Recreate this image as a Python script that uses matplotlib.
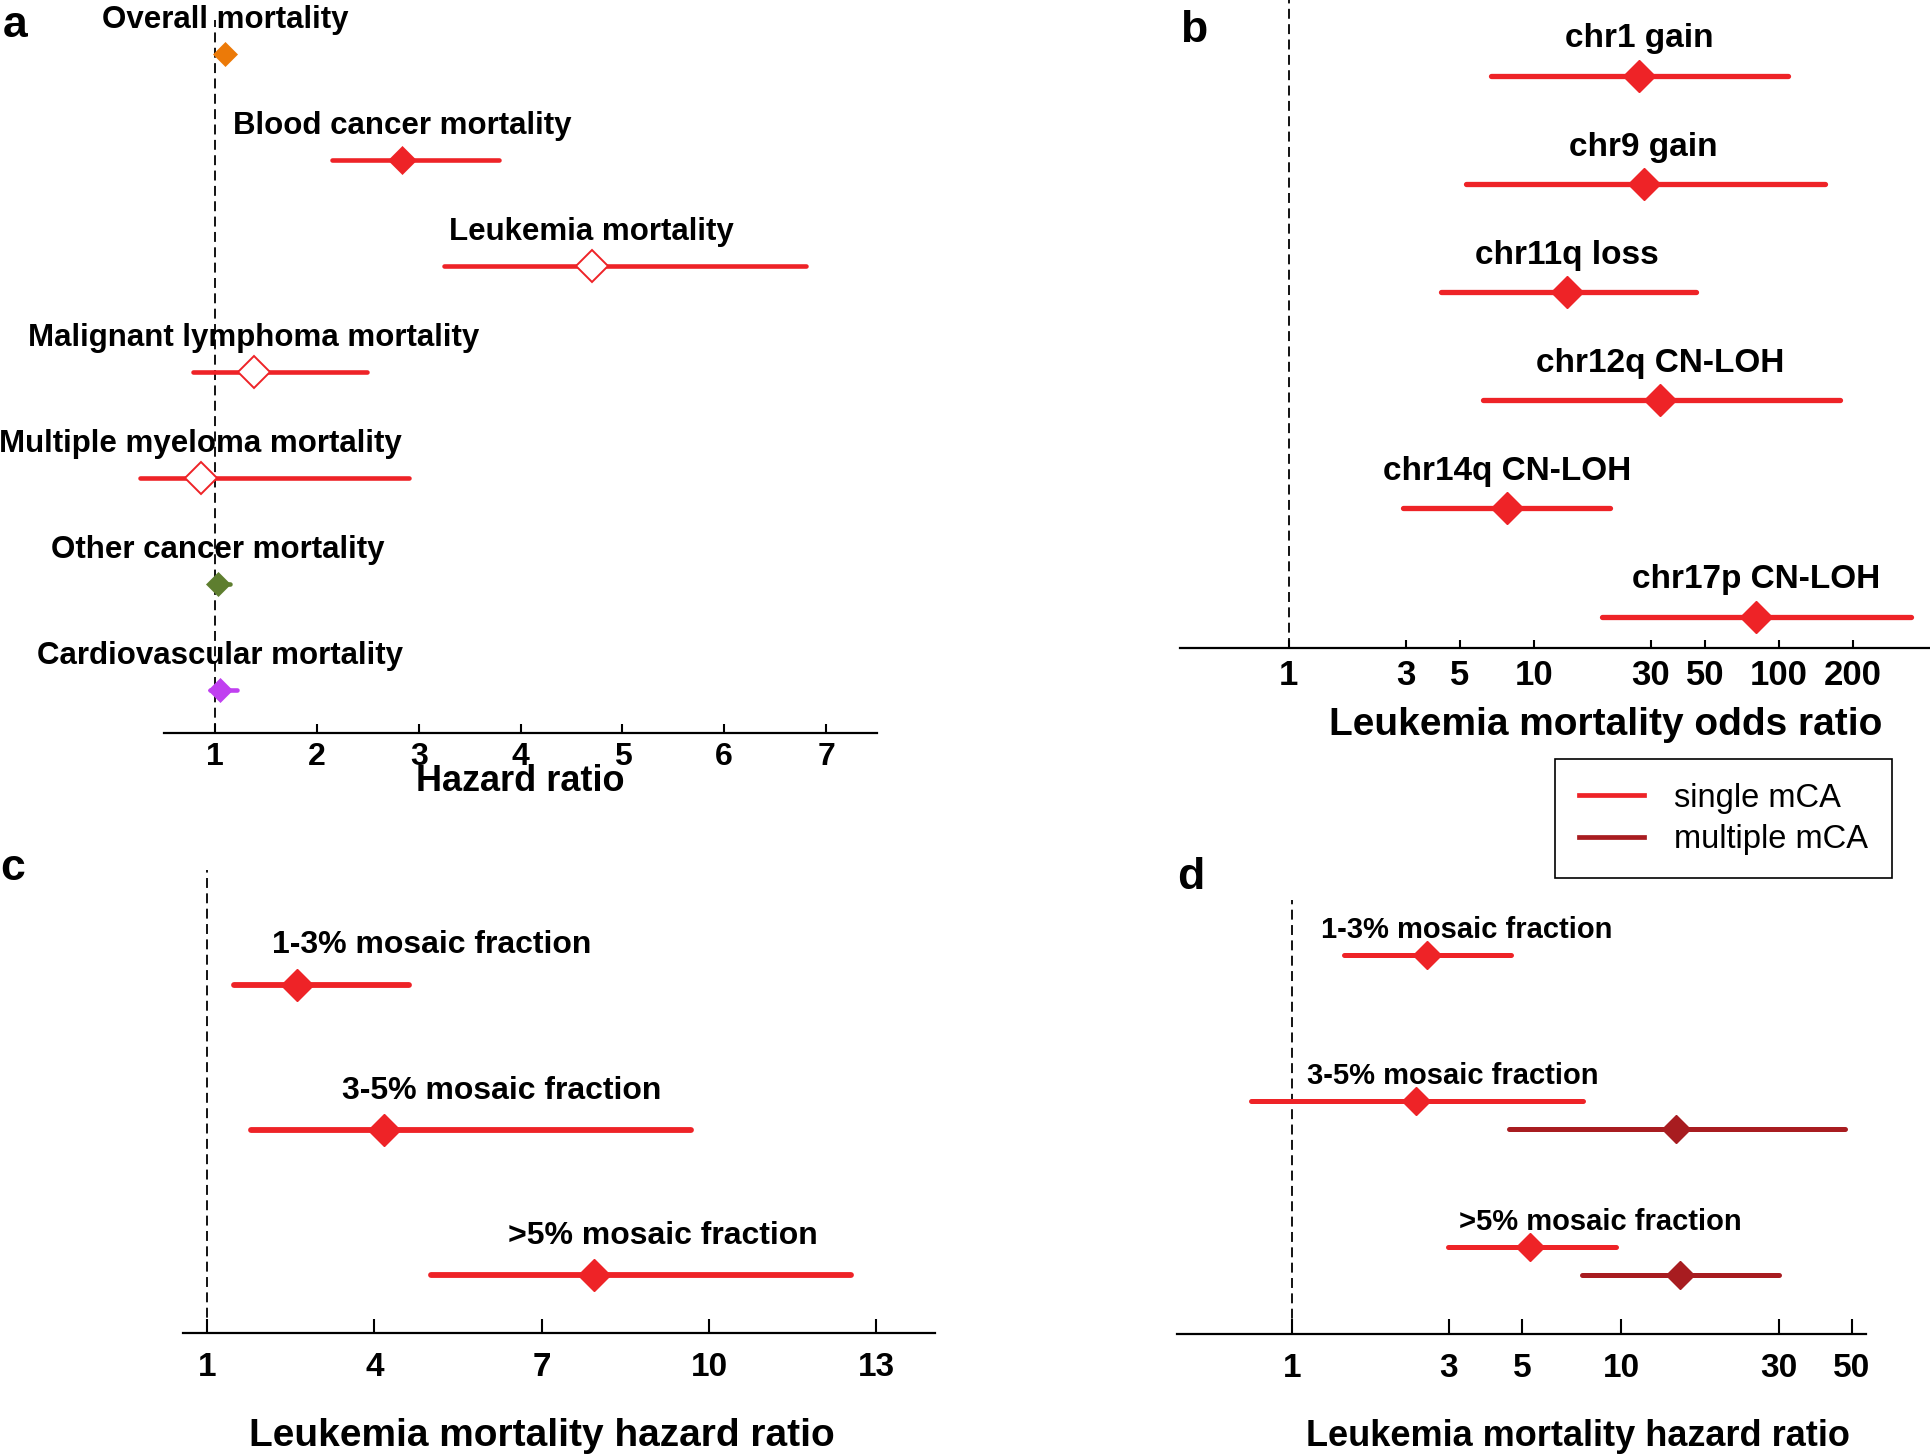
import numpy as np
import matplotlib
matplotlib.use("Agg")
import matplotlib.pyplot as plt
from matplotlib.lines import Line2D

plt.rcParams['font.family'] = ['Liberation Sans', 'DejaVu Sans']

RED = '#ee2327'
DARK = '#a81c20'

# panel a: hazard ratios by cause of death
a_labels = ['Overall mortality', 'Blood cancer mortality', 'Leukemia mortality',
            'Malignant lymphoma mortality', 'Multiple myeloma mortality',
            'Other cancer mortality', 'Cardiovascular mortality']
a_hr = [1.10, 2.84, 4.70, 1.38, 0.86, 1.03, 1.05]
a_lo = [1.08, 2.15, 3.25, 0.78, 0.26, 0.96, 0.95]
a_hi = [1.13, 3.79, 6.80, 2.49, 2.90, 1.15, 1.22]
a_colors = ['#ec7a08', RED, RED, RED, RED, '#5e7e2f', '#c040f0']
a_open = [False, False, True, True, True, False, False]
a_ticks = [1, 2, 3, 4, 5, 6, 7]

# panel b: odds ratios by mCA type
b_labels = ['chr1 gain', 'chr9 gain', 'chr11q loss', 'chr12q CN-LOH',
            'chr14q CN-LOH', 'chr17p CN-LOH']
b_or = [26.9, 28.1, 13.7, 32.7, 7.75, 81.0]
b_lo = [6.69, 5.29, 4.20, 6.2, 2.92, 19.0]
b_hi = [109, 154.5, 46, 177, 20.4, 346]
b_ticks = [1, 3, 5, 10, 30, 50, 100, 200]

# panel c: hazard ratio by mosaic fraction
c_labels = ['1-3% mosaic fraction', '3-5% mosaic fraction', '>5% mosaic fraction']
c_hr = [2.61, 4.17, 7.93]
c_lo = [1.49, 1.79, 5.02]
c_hi = [4.63, 9.68, 12.54]
c_ticks = [1, 4, 7, 10, 13]
c_label_x = [5.03, 6.29, 9.18]

# panel d: single vs multiple mCA by mosaic fraction
d_labels = ['1-3% mosaic fraction', '3-5% mosaic fraction', '>5% mosaic fraction']
d_single_hr = [2.57, 2.38, 5.30]
d_single_lo = [1.445, 0.752, 2.97]
d_single_hi = [4.62, 7.65, 9.63]
d_multi_hr = [np.nan, 14.6, 15.1]
d_multi_lo = [np.nan, 4.57, 7.57]
d_multi_hi = [np.nan, 47.6, 30.0]
d_ticks = [1, 3, 5, 10, 30, 50]
d_label_x = [3.40, 3.08, 8.61]

W, H = 1930, 1456
fig = plt.figure(figsize=(W / 100, H / 100), dpi=100)


def make_ax(x0, x1, y0, y1):
    return fig.add_axes([x0 / W, 1 - y1 / H, (x1 - x0) / W, (y1 - y0) / H])


def style_ax(ax, ticks, ticksize, ticklen, pad):
    for s in ['top', 'right', 'left']:
        ax.spines[s].set_visible(False)
    ax.spines['bottom'].set_linewidth(1.6)
    ax.set_yticks([])
    ax.set_xticks(ticks)
    ax.set_xticklabels([str(t) for t in ticks])
    ax.xaxis.set_minor_locator(matplotlib.ticker.NullLocator())
    ax.tick_params(axis='x', direction='in', length=ticklen, width=1.5,
                   labelsize=ticksize, pad=pad)
    for t in ax.get_xticklabels():
        t.set_fontweight('bold')
    ax.axvline(1, color='black', lw=1.3, ls=(0, (5.5, 3)), zorder=1)


def set_xlabel(ax, text, size, x, y):
    ax.set_xlabel(text, fontsize=size, fontweight='bold')
    ax.xaxis.set_label_coords(x, y)
    ax.xaxis.label.set_verticalalignment('center')


# ---- a ----
ax = make_ax(133.6, 877, 20, 733)
ya = np.arange(len(a_labels))
for i in range(len(a_labels)):
    ax.plot([a_lo[i], a_hi[i]], [ya[i], ya[i]], color=a_colors[i], lw=3.3,
            solid_capstyle='round', zorder=2)
    if a_open[i]:
        ax.plot(a_hr[i], ya[i], marker='D', ms=16.5, mfc='white',
                mec=a_colors[i], mew=1.4, zorder=3)
    else:
        ms = 14.5 if a_colors[i] == RED else 12
        ax.plot(a_hr[i], ya[i], marker='D', ms=ms, mfc=a_colors[i],
                mec=a_colors[i], mew=0.5, zorder=3)
    ax.text(a_hr[i], ya[i] - 0.32, a_labels[i], ha='center', va='center',
            fontsize=22.5, fontweight='bold', zorder=4)
ax.set_xlim(0.2, 7.5)
ax.set_ylim(len(a_labels) - 1 + 0.41, -0.32)
style_ax(ax, a_ticks, 23, 6.5, 6.6)
ax.spines['bottom'].set_bounds(0.5, 7.5)
set_xlabel(ax, 'Hazard ratio', 26, 0.52, -0.0687)

# ---- b ----
ax = make_ax(1180, 1929, 0, 648)
ax.set_xscale('log')
yb = np.arange(len(b_labels))
ax.hlines(yb, b_lo, b_hi, color=RED, lw=3.8, capstyle='round', zorder=2)
ax.plot(b_or, yb, ls='none', marker='D', ms=16, mfc=RED, mec=RED, zorder=3)
for i in range(len(b_labels)):
    ax.text(b_or[i], yb[i] - 0.34, b_labels[i], ha='center', va='center',
            fontsize=24, fontweight='bold')
ax.set_xlim(0.36, 410)
ax.set_ylim(len(b_labels) - 1 + 0.29, -0.70)
style_ax(ax, b_ticks, 25, 6, 8)
set_xlabel(ax, 'Leukemia mortality odds ratio', 28, 0.568, -0.119)

# ---- c ----
ax = make_ax(183, 935, 870, 1333)
yc = np.arange(len(c_labels))
ax.hlines(yc, c_lo, c_hi, color=RED, lw=4.2, capstyle='round', zorder=2)
ax.plot(c_hr, yc, ls='none', marker='D', ms=16.5, mfc=RED, mec=RED, zorder=3)
for i in range(len(c_labels)):
    ax.text(c_label_x[i], yc[i] - 0.27, c_labels[i], ha='center', va='center',
            fontsize=23, fontweight='bold')
ax.set_xlim(0.57, 14.05)
ax.set_ylim(len(c_labels) - 1 + 0.40, -0.79)
style_ax(ax, c_ticks, 24, 10, 14)
set_xlabel(ax, 'Leukemia mortality hazard ratio', 28, 0.477, -0.2225)

# ---- d ----
ax = make_ax(1177, 1866, 900, 1334)
ax.set_xscale('log')
yd = np.arange(len(d_labels))
ym = yd + 0.19
ax.hlines(yd, d_single_lo, d_single_hi, color=RED, lw=3.6, capstyle='round', zorder=2)
ax.plot(d_single_hr, yd, ls='none', marker='D', ms=14, mfc=RED, mec=RED, zorder=3)
ax.hlines(ym, d_multi_lo, d_multi_hi, color=DARK, lw=3.6, capstyle='round', zorder=2)
ax.plot(d_multi_hr, ym, ls='none', marker='D', ms=14, mfc=DARK, mec=DARK, zorder=3)
for i in range(len(d_labels)):
    ax.text(d_label_x[i], yd[i] - 0.17, d_labels[i], ha='center', va='center',
            fontsize=21, fontweight='bold')
ax.set_xlim(0.449, 55.2)
ax.set_ylim(len(d_labels) - 1 + 0.596, -0.374)
style_ax(ax, d_ticks, 24, 11, 13.7)
set_xlabel(ax, 'Leukemia mortality hazard ratio', 26, 0.582, -0.2366)

# legend shared by b and d
handles = [Line2D([], [], color=RED, lw=3.4), Line2D([], [], color=DARK, lw=3.4)]
leg = fig.legend(handles, ['single mCA', 'multiple mCA'], loc='upper left',
                 bbox_to_anchor=(1555 / W, 1 - 759 / H), fontsize=23.5,
                 frameon=True, fancybox=False, framealpha=1, edgecolor='black',
                 borderpad=0.72, labelspacing=0.32, handlelength=2.0,
                 handletextpad=0.94, borderaxespad=0)
leg.get_frame().set_linewidth(1.2)

# panel letters
for letter, x, y in [('a', 3, 37), ('b', 1180, 42), ('c', 0, 880), ('d', 1177, 889)]:
    fig.text(x / W, 1 - y / H, letter, fontsize=32, fontweight='bold',
             ha='left', va='baseline')

fig.savefig('out.png', dpi=100)
